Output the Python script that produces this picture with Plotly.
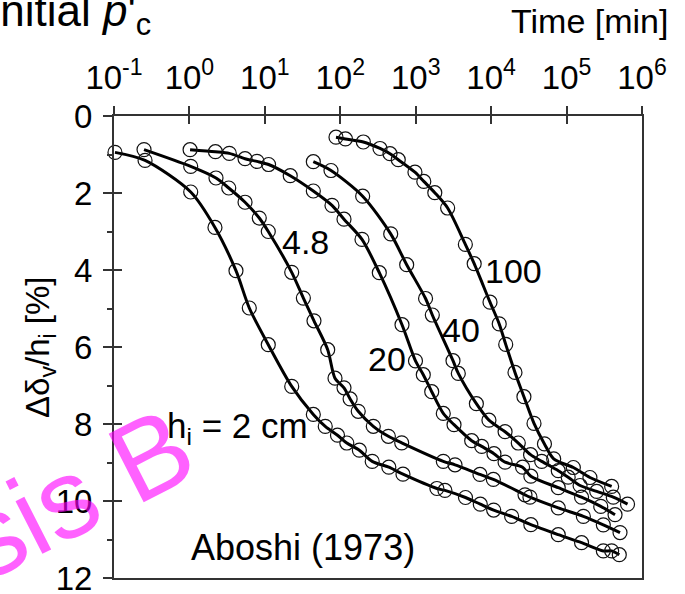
import plotly.graph_objects as go

# ---------------- data (time in minutes, settlement in %) ----------------
t_h2 = [0.103, 0.258, 1.04, 2.18, 4.14, 6.22, 11.1, 22.7, 43.9, 63.2, 91.8, 122, 179, 265,
        440, 678, 1910, 2440, 4570, 7180, 10800, 18700, 33600, 77600, 158000, 307000,
        396000, 500000]
v_h2 = [0.945, 1.153, 1.974, 2.894, 4.018, 4.987, 5.940, 7.023, 7.751, 8.062, 8.291, 8.494,
        8.681, 8.971, 9.122, 9.304, 9.675, 9.725, 9.909, 10.083, 10.236, 10.400, 10.616,
        10.875, 11.083, 11.296, 11.296, 11.395]

t_h48 = [0.25, 1.04, 2.25, 3.32, 5.46, 8.43, 11.1, 22.7, 32.4, 44.8, 68.1, 85.1, 112, 135,
         173, 274, 434, 652, 2320, 3320, 7110, 10700, 28100, 32700, 77600, 167000, 307000,
         511000]
v_h48 = [0.873, 1.309, 1.61, 1.87, 2.24, 2.65, 3.00, 4.06, 4.73, 5.32, 6.07, 6.81, 7.06, 7.35,
         7.67, 8.06, 8.32, 8.49, 8.97, 9.06, 9.31, 9.44, 9.84, 9.90, 10.18, 10.40, 10.62, 10.82]

t_h20 = [1.02, 2.21, 3.38, 5.46, 7.87, 11.2, 21.7, 43.9, 77.6, 112, 194, 329, 658, 993, 1260,
         1630, 2320, 3220, 5520, 7500, 10900, 15300, 26100, 33600, 77600, 158000, 284000,
         439000]
v_h20 = [0.875, 0.927, 0.971, 1.109, 1.179, 1.260, 1.551, 1.948, 2.322, 2.681, 3.205, 4.070,
         5.421, 6.361, 6.719, 7.161, 7.725, 8.018, 8.434, 8.582, 8.771, 8.992, 9.122, 9.356,
         9.655, 9.901, 10.140, 10.356]

t_h40 = [43.9, 75.3, 198, 466, 759, 1350, 1660, 3120, 3670, 6370, 9350, 15300, 22900, 33300,
         46800, 77600, 105000, 151000, 251000, 416000, 643000]
v_h40 = [1.187, 1.416, 2.083, 3.062, 3.862, 4.740, 5.169, 6.356, 6.686, 7.473, 7.901, 8.200,
         8.494, 8.797, 8.971, 9.213, 9.382, 9.597, 9.751, 9.901, 10.083]

t_h100 = [87.7, 117, 202, 336, 456, 587, 977, 1280, 1790, 2650, 4550, 5960, 9660, 12800, 15600,
          20700, 27200, 37000, 50900, 67500, 123000, 204000, 396000]
v_h100 = [0.551, 0.595, 0.675, 0.844, 0.979, 1.135, 1.460, 1.699, 1.992, 2.390, 3.335, 3.836,
          4.836, 5.400, 5.932, 6.660, 7.291, 7.984, 8.517, 8.906, 9.130, 9.390, 9.621]

x_tickvals = [0.1, 1, 10, 100, 1000, 1e4, 1e5, 1e6]
x_ticktext = ["10<sup>-1</sup>", "10<sup>0</sup>", "10<sup>1</sup>", "10<sup>2</sup>",
              "10<sup>3</sup>", "10<sup>4</sup>", "10<sup>5</sup>", "10<sup>6</sup>"]
y_tickvals = [0, 2, 4, 6, 8, 10, 12]

series = [(t_h2, v_h2), (t_h48, v_h48), (t_h20, v_h20), (t_h40, v_h40), (t_h100, v_h100)]

# ---------------- layout geometry ----------------
W, H = 685, 594
ML, MR, MT, MB = 114, 43, 116, 16
PW, PH = W - ML - MR, H - MT - MB
FONT = "Liberation Sans, Arial, sans-serif"


def px(xp):
    return (xp - ML) / PW


def py(yp):
    return 1 - (yp - MT) / PH


fig = go.Figure()
for t, v in series:
    fig.add_trace(go.Scatter(
        x=t, y=v, mode="lines+markers",
        line=dict(color="black", width=3, shape="spline", smoothing=0.8),
        marker=dict(symbol="circle-open", size=14, color="#111111", line=dict(width=1.2)),
        cliponaxis=False, showlegend=False, hoverinfo="skip"))

# invisible trace to carry the overlay axes (inner halves of the crossing ticks)
fig.add_trace(go.Scatter(x=[], y=[], xaxis="x2", yaxis="y2", showlegend=False,
                         hoverinfo="skip"))

axcol = "#333333"
fig.update_layout(
    width=W, height=H,
    margin=dict(l=ML, r=MR, t=MT, b=MB, pad=0, autoexpand=False),
    paper_bgcolor="white", plot_bgcolor="white",
    font=dict(family=FONT, color="black"),
    xaxis=dict(type="log", range=[-1, 6], side="top", tickvals=x_tickvals,
               ticktext=x_ticktext, ticks="outside", ticklen=8, tickwidth=1.5,
               tickcolor=axcol, showline=True, linecolor=axcol, linewidth=2, mirror=True,
               showgrid=False, zeroline=False, ticklabelstandoff=4,
               ticklabeloverflow="allow", automargin=False,
               tickfont=dict(family=FONT, size=33, color="black")),
    xaxis2=dict(type="log", range=[-1, 6], side="top", overlaying="x", anchor="y",
                tickvals=x_tickvals, ticks="inside", ticklen=8, tickwidth=1.5,
                tickcolor=axcol, showticklabels=False, showline=False, showgrid=False,
                zeroline=False, automargin=False),
    yaxis=dict(range=[12, 0], tickvals=y_tickvals, ticks="outside", ticklen=9,
               tickwidth=1.5, tickcolor=axcol, showline=True, linecolor=axcol,
               linewidth=2, mirror=True, showgrid=False, zeroline=False,
               ticklabelstandoff=4, ticklabeloverflow="allow", automargin=False,
               minor=dict(dtick=1, ticks="outside", ticklen=5, tickwidth=1.5,
                          tickcolor=axcol),
               tickfont=dict(family=FONT, size=33, color="black")),
    yaxis2=dict(range=[12, 0], overlaying="y", side="left", anchor="x",
                tickvals=y_tickvals, ticks="inside", ticklen=8, tickwidth=1.5,
                tickcolor=axcol, showticklabels=False, showline=False, showgrid=False,
                zeroline=False, automargin=False),
)

labels = [
    ("4.8", 305, 242, "center"),
    ("100", 513, 271, "center"),
    ("40", 461, 330, "center"),
    ("20", 387, 359, "center"),
]
ann = []
for txt, xp, yp, xa in labels:
    ann.append(dict(text=txt, xref="paper", yref="paper", x=px(xp), y=py(yp),
                    xanchor=xa, yanchor="middle", showarrow=False,
                    font=dict(family=FONT, size=34, color="black")))
ann.append(dict(text="Aboshi (1973)", xref="paper", yref="paper", x=px(303), y=py(547),
                xanchor="center", yanchor="middle", showarrow=False,
                font=dict(family=FONT, size=36, color="black")))
ann.append(dict(text="h<sub>i</sub> = 2 cm", xref="paper", yref="paper", x=px(165),
                y=py(428), xanchor="left", yanchor="middle", showarrow=False,
                font=dict(family=FONT, size=35, color="black")))
ann.append(dict(text="Time [min]", xref="paper", yref="paper", x=px(670), y=py(21),
                xanchor="right", yanchor="middle", showarrow=False,
                font=dict(family=FONT, size=34, color="black")))
ann.append(dict(text="Initial <i>p</i>'<sub>c</sub>", xref="paper", yref="paper",
                x=px(-14), y=py(14), xanchor="left", yanchor="middle", showarrow=False,
                font=dict(family=FONT, size=44, color="black")))
ann.append(dict(text="Δδ<sub>v</sub>/h<sub>i</sub> [%]", xref="paper", yref="paper",
                x=px(40), y=py(347), xanchor="center", yanchor="middle", textangle=-90,
                showarrow=False, font=dict(family=FONT, size=33, color="black")))
ann.append(dict(text="sis B", xref="paper", yref="paper", x=px(76), y=py(493),
                xanchor="center", yanchor="middle", textangle=-27, showarrow=False,
                font=dict(family=FONT, size=112, color="rgba(255,0,255,0.62)")))
fig.update_layout(annotations=ann)

fig.write_html("out.html")
